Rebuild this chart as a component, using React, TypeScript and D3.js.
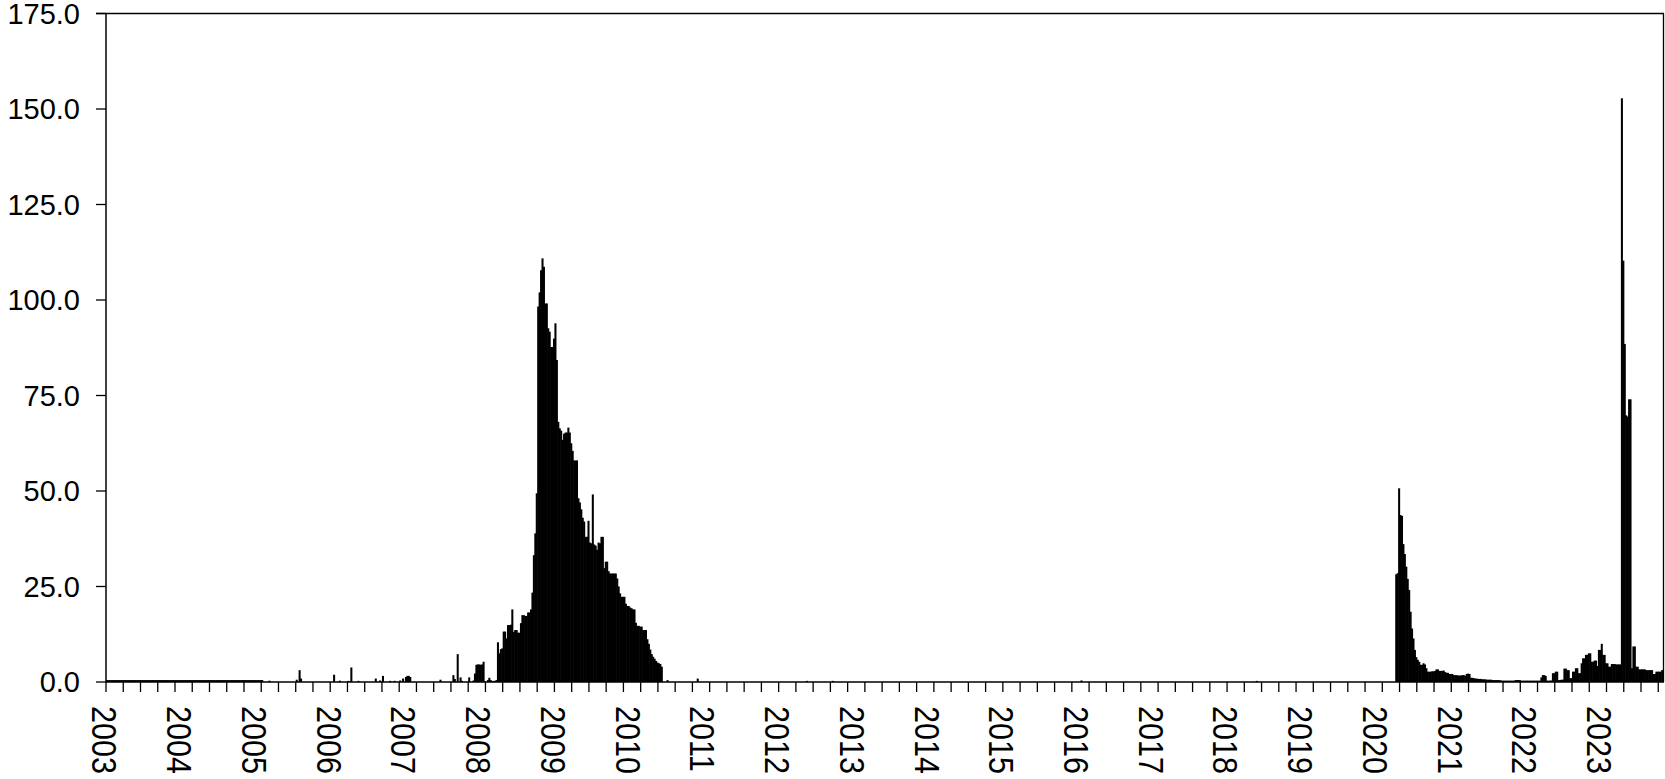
import React from "react";
import * as d3 from "d3";

// ---- data (weekly values, category index 0 = first week of 2003) ----
const yearLabels = [
  "2003", "2004", "2005", "2006", "2007", "2008", "2009", "2010", "2011", "2012",
  "2013", "2014", "2015", "2016", "2017", "2018", "2019", "2020", "2021", "2022", "2023",
];
const weekCount = 1084;
const tickEvery = 12;
const labelEvery = 52;
const yTickValues = [0, 25, 50, 75, 100, 125, 150, 175];

// weeks 0..108 (2003 – early 2005)
const start2003 = 0;
const vals2003to2005 = [
  0.5, 0.5, 0.5, 0.5, 0.5, 0.5, 0.5, 0.5, 0.5, 0.5, 0.5, 0.5, 0.5, 0.5, 0.5, 0.5, 0.5, 0.5, 0.5, 0.5,
  0.5, 0.5, 0.5, 0.5, 0.5, 0.5, 0.5, 0.5, 0.5, 0.5, 0.5, 0.5, 0.5, 0.5, 0.5, 0.5, 0.5, 0.5, 0.5, 0.5,
  0.5, 0.5, 0.5, 0.5, 0.5, 0.5, 0.5, 0.5, 0.5, 0.5, 0.5, 0.5, 0.5, 0.5, 0.5, 0.5, 0.5, 0.5, 0.5, 0.5,
  0.5, 0.5, 0.5, 0.5, 0.5, 0.5, 0.5, 0.5, 0.5, 0.5, 0.5, 0.5, 0.5, 0.5, 0.5, 0.5, 0.5, 0.5, 0.5, 0.5,
  0.5, 0.5, 0.5, 0.5, 0.5, 0.5, 0.5, 0.5, 0.5, 0.5, 0.5, 0.5, 0.5, 0.5, 0.5, 0.5, 0.5, 0.5, 0.5, 0.5,
  0.5, 0.5, 0.5, 0.5, 0.5, 0.5, 0.5, 0.5, 0.5,
];

// isolated weeks 2005 – 2008: [week index, value]
const sparse2005to2008: [number, number][] = [
  [113, 0.35], [132, 0.6], [134, 3.1], [135, 0.9], [158, 1.9], [162, 0.35], [168, 0.3], [170, 3.8],
  [175, 0.3], [187, 0.9], [190, 0.4], [192, 1.6], [197, 0.3], [200, 0.3], [204, 0.4], [206, 0.9],
  [208, 1.3], [209, 1.6], [210, 1.6], [211, 1.3], [232, 0.6], [241, 1.8], [242, 0.8], [244, 7.3],
  [246, 1.2], [247, 0.3], [252, 1.2],
];

// weeks 255..386 (2008 – mid 2010)
const start2008 = 255;
const vals2008to2010 = [
  0.4, 2.2, 4.5, 4.6, 4.6, 4.5, 4.6, 5.3, 0.2, 0,
  0.5, 1.1, 0.5, 0.2, 0.3, 0.3, 0.5, 10.4, 7.5, 8.6,
  8.8, 13.2, 13.2, 11.4, 14.9, 14.9, 15.0, 19.0, 13.1, 13.6,
  13.6, 12.9, 12.9, 15.4, 17.5, 17.5, 17.3, 17.3, 18.2, 18.2,
  19.0, 23.4, 33.2, 38.9, 49.4, 98.3, 102.0, 107.8, 110.9, 108.7,
  99.1, 99.1, 92.6, 91.7, 87.7, 87.7, 89.9, 93.9, 84.3, 68.1,
  66.4, 65.8, 63.4, 65.0, 65.3, 65.3, 66.6, 65.3, 62.5, 60.5,
  58.0, 58.0, 58.0, 48.1, 47.0, 45.2, 43.0, 42.0, 38.0, 38.0,
  42.2, 36.5, 36.3, 49.1, 36.0, 35.7, 34.6, 36.5, 36.3, 38.0,
  38.0, 29.8, 31.5, 31.5, 29.0, 28.4, 28.4, 28.4, 28.4, 28.4,
  27.1, 25.0, 23.2, 22.3, 22.3, 22.3, 20.5, 19.9, 19.9, 19.5,
  19.3, 19.0, 19.0, 15.5, 14.7, 14.7, 14.5, 14.5, 13.6, 13.6,
  13.6, 11.2, 10.0, 8.5, 7.3, 6.6, 6.1, 5.5, 5.1, 4.9,
  4.7, 4.0,
];

// isolated weeks 2010 – 2020
const sparse2010to2020: [number, number][] = [
  [390, 0.5], [411, 0.9], [487, 0.3], [505, 0.3], [678, 0.4], [800, 0.3],
];

// weeks 897..1083 (2020 – 2023)
const start2020 = 897;
const vals2020to2023 = [
  28.2, 28.5, 50.7, 43.7, 43.5, 36.1, 33.5, 30.2, 27.0, 24.1,
  18.4, 14.0, 11.4, 8.4, 6.5, 5.8, 5.3, 4.5, 4.5, 4.9,
  4.6, 3.6, 2.7, 2.7, 2.7, 2.8, 2.8, 2.9, 3.3, 3.3,
  2.9, 2.9, 2.9, 3.0, 2.6, 2.4, 2.4, 2.1, 2.1, 2.1,
  1.8, 1.8, 1.8, 1.7, 1.7, 1.7, 1.8, 1.8, 1.6, 2.1,
  2.2, 2.1, 1.1, 1.1, 1.0, 0.9, 0.9, 0.8, 0.8, 0.8,
  0.7, 0.7, 0.7, 0.6, 0.6, 0.6, 0.6, 0.5, 0.5, 0.5,
  0.5, 0.5, 0.5, 0.4, 0.35, 0.35, 0.35, 0.35, 0.35, 0.35,
  0.35, 0.35, 0.35, 0.5, 0.5, 0.5, 0.5, 0.35, 0.35, 0.35,
  0.35, 0.35, 0.35, 0.35, 0.35, 0.35, 0.35, 0.35, 0.35, 0.35,
  0.35, 1.2, 1.8, 1.8, 1.6, 0.35, 0.35, 0.35, 0.4, 2.3,
  2.3, 2.7, 2.7, 0.5, 0.5, 0.6, 0.6, 3.5, 3.5, 3.1,
  3.1, 1.0, 1.0, 2.7, 2.7, 3.6, 3.6, 2.3, 2.3, 4.9,
  6.2, 6.2, 7.1, 7.1, 7.5, 7.5, 5.3, 5.3, 5.6, 5.6,
  4.2, 8.4, 8.4, 10.0, 7.1, 7.1, 4.9, 4.9, 4.0, 4.0,
  4.7, 4.7, 4.7, 4.6, 4.6, 4.6, 4.6, 152.8, 110.3, 88.5,
  69.8, 69.5, 74.0, 74.0, 3.6, 9.3, 9.3, 4.0, 4.0, 3.3,
  3.3, 3.3, 3.3, 3.3, 3.1, 3.1, 3.1, 3.1, 3.1, 2.1,
  2.1, 2.7, 2.7, 2.7, 2.7, 3.1, 3.1,
];

// ---- assemble the weekly series (weeks not listed are zero) ----
function buildSeries(): number[] {
  const s: number[] = new Array(weekCount).fill(0);
  const put = (start: number, vals: number[]) => vals.forEach((v, k) => { if (start + k < weekCount) s[start + k] = v; });
  put(start2003, vals2003to2005);
  sparse2005to2008.forEach(([i, v]) => (s[i] = v));
  put(start2008, vals2008to2010);
  sparse2010to2020.forEach(([i, v]) => (s[i] = v));
  put(start2020, vals2020to2023);
  return s;
}

const W = 1665;
const H = 779;
const left = 106;
const right = 1664;
const top = 13.5;
const bottom = 682;
const FONT = "'Liberation Sans', Arial, sans-serif";

export default function App() {
  const series = buildSeries();
  const x = d3.scaleLinear().domain([0, weekCount]).range([left, right]);
  const y = d3.scaleLinear().domain([0, 175]).range([bottom, top]);
  const fmt = d3.format(".1f");

  const xTicks = d3.range(0, weekCount + 1, tickEvery);

  return (
    <div style={{ position: "absolute", left: 0, top: 0 }}>
      <svg width={W} height={H} style={{ display: "block", background: "#fff" }}>
        {/* bars */}
        <g fill="#000">
          {series.map((v, i) =>
            v > 0 ? (
              <rect
                key={i}
                x={x(i)}
                y={y(v)}
                width={Math.min(x(i + 1) - x(i) + 0.6, right - x(i))}
                height={y(0) - y(v)}
              />
            ) : null
          )}
        </g>
        {/* frame */}
        <line x1={96} x2={right} y1={top} y2={top} stroke="#000" strokeWidth={1.3} />
        <line x1={right - 0.5} x2={right - 0.5} y1={top} y2={bottom} stroke="#000" strokeWidth={1.3} />
        {/* y axis */}
        <line x1={left} x2={left} y1={top} y2={bottom} stroke="#000" strokeWidth={1.5} />
        {yTickValues.map((t) => (
          <g key={t}>
            <line x1={96} x2={left} y1={y(t)} y2={y(t)} stroke="#000" strokeWidth={1.3} />
            <text x={80} y={y(t)} dy="0.35em" textAnchor="end" fontFamily={FONT} fontSize={29} fill="#000">
              {fmt(t)}
            </text>
          </g>
        ))}
        {/* x axis */}
        <line x1={left} x2={right} y1={bottom} y2={bottom} stroke="#000" strokeWidth={1.5} />
        {xTicks.map((t) => (
          <line key={t} x1={x(t)} x2={x(t)} y1={bottom} y2={bottom + 10} stroke="#000" strokeWidth={1.3} />
        ))}
        {yearLabels.map((lab, j) => (
          <text
            key={lab}
            transform={`translate(${x(j * labelEvery) - 1},${706}) rotate(90) scale(0.85,1)`}
            dy="0.35em"
            textAnchor="start"
            fontFamily={FONT}
            fontSize={36}
            fill="#000"
          >
            {lab}
          </text>
        ))}
      </svg>
    </div>
  );
}
